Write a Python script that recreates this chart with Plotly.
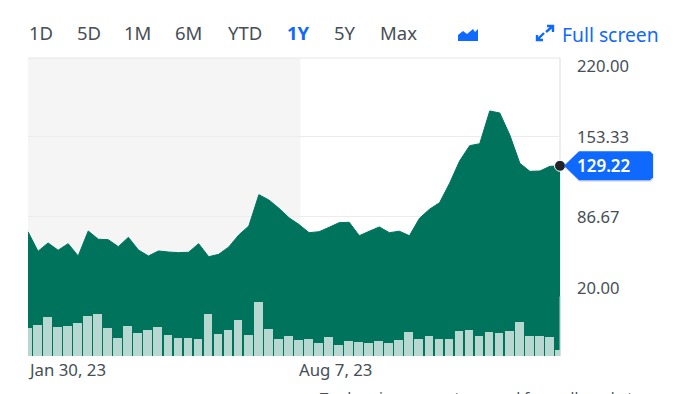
import pandas as pd
import plotly.graph_objects as go

W, H = 673, 394
L, R, T, B = 28, 113, 58, 38

range_buttons = ["1D", "5D", "1M", "6M", "YTD", "1Y", "5Y", "Max"]
button_centers = [41, 88.5, 137.5, 188.5, 245, 298.5, 344.5, 398]
active_button = "1Y"

prices = [74.1, 57.7, 64.7, 58.6, 64.1, 53.8, 74.7, 67.8, 67.4, 61.6, 69.4, 58.8, 53.8, 58.0,
          57.1, 56.6, 56.9, 64.1, 53.2, 55.2, 61.3, 71.4, 78.9, 105.1, 100.6, 93.7, 85.8, 80.1,
          73.3, 74.1, 77.8, 81.7, 82.0, 70.8, 74.5, 78.1, 73.3, 74.5, 70.8, 85.3, 92.9, 98.4,
          114.6, 133.3, 146.1, 147.7, 175.1, 173.4, 155.0, 131.3, 124.6, 124.9, 128.8, 129.22]
volumes = [2.77, 3.07, 3.87, 2.87, 3.00, 3.27, 4.03, 4.20, 2.77, 1.83, 3.00, 2.27, 2.63, 2.93,
           2.10, 1.77, 1.83, 1.73, 4.17, 2.20, 2.57, 3.57, 2.13, 5.37, 2.70, 1.70, 2.00, 1.60,
           1.67, 1.33, 1.93, 1.10, 1.50, 1.37, 1.30, 1.50, 1.27, 1.57, 2.40, 1.70, 2.00, 1.73,
           1.67, 2.53, 2.57, 2.03, 2.40, 2.30, 2.50, 3.37, 2.00, 1.97, 1.90, 0.60]
dates = pd.date_range("2023-01-30", periods=len(prices), freq="7D")

y_ticks = [20.00, 86.67, 153.33, 220.00]
y_min, y_max = -29.86, 219.4
vol_max = 29.8
last_price = prices[-1]
shade_end = "2023-08-08"

DARK = "#00735c"
LIGHT = "#b6d8d0"
TEXT = "#464e56"
BLUE = "#0f69ff"
FONT = "Noto Sans, Open Sans, sans-serif"


def px(x):
    return (x - L) / (W - L - R)


def py(y):
    return 1 - (y - T) / (H - T - B)


def vy(v):
    return (v - y_min) / (y_max - y_min)


def vpix(v):
    return T + (1 - vy(v)) * (H - T - B)


fig = go.Figure()
fig.add_trace(go.Scatter(x=dates, y=[y_min] * len(dates), mode="lines", line=dict(width=0),
                         hoverinfo="skip", showlegend=False))
fig.add_trace(go.Scatter(x=dates, y=prices, mode="lines", line=dict(color=DARK, width=1),
                         fill="tonexty", fillcolor=DARK, showlegend=False))
fig.add_trace(go.Bar(x=dates, y=volumes, yaxis="y2", marker=dict(color=LIGHT, line=dict(width=0)),
                     width=8.7 * 86400000 * 7 / 10.04,
                     offset=-5.0 * 86400000 * 7 / 10.04, showlegend=False))
fig.add_trace(go.Scatter(x=[dates[-1]], y=[last_price], mode="markers", cliponaxis=False,
                         marker=dict(color="#20242a", size=11, line=dict(color="#ffffff", width=1)),
                         showlegend=False))

annotations = []


def text(x, y, s, size=16, color=TEXT, anchor="left", bold=False, xref="paper", yref="paper",
         yshift=0, xshift=-3, weight=None):
    annotations.append(dict(x=x, y=y, xref=xref, yref=yref, text=s,
                            showarrow=False, xanchor=anchor, yanchor="middle", yshift=yshift,
                            xshift=xshift if anchor == "left" else 0,
                            font=dict(family=FONT, size=size, color=color,
                                      weight=weight or (700 if bold else 400))))


for label, cx in zip(range_buttons, button_centers):
    active = label == active_button
    text(px(cx), py(32), label, size=18.5, color=BLUE if active else TEXT, anchor="center", bold=active)
text(px(562), py(34), "Full screen", size=19.3, color=BLUE, xshift=-2)

label_shift = {220.00: -8, 153.33: 0, 86.67: 0, 20.00: 9}
for v in y_ticks:
    text(px(578), vy(v), f"{v:.2f}", size=16.6, yshift=label_shift[v])
text(dates[0], py(369.5), "Jan 30, 23", size=16.8, xref="x", xshift=-2.5)
text("2023-08-07", py(369.5), "Aug 7, 23", size=16.8, xref="x", xshift=-2)
text(px(319), py(397), "Trade prices are not sourced from all markets", size=15, xshift=-1)
text(px(578), vy(last_price), f"{last_price:.2f}", size=17, color="#ffffff", weight=600)

yc = vpix(last_price)


def tag_path(dx, dy):
    return (f"M {px(564 + dx)} {py(yc + dy)} L {px(579 + dx)} {py(yc - 14.5 + dy)} "
            f"L {px(650 + dx)} {py(yc - 14.5 + dy)} L {px(653 + dx)} {py(yc - 11.5 + dy)} "
            f"L {px(653 + dx)} {py(yc + 11.5 + dy)} L {px(650 + dx)} {py(yc + 14.5 + dy)} "
            f"L {px(579 + dx)} {py(yc + 14.5 + dy)} Z")


shapes = [
    dict(type="rect", xref="x", yref="paper", x0=dates[0], x1=shade_end, y0=0, y1=1,
         fillcolor="#f5f5f5", line=dict(width=0), layer="below"),
    dict(type="line", xref="paper", yref="paper", x0=0, x1=1, y0=1, y1=1,
         line=dict(color="#e6e6e6", width=1), layer="below"),
    dict(type="line", xref="paper", yref="paper", x0=1, x1=1, y0=0, y1=1,
         line=dict(color="#dcdcdc", width=1), layer="below"),
    dict(type="line", xref="paper", yref="paper", x0=1, x1=1, y0=0, y1=vy(20),
         line=dict(color=LIGHT, width=1), layer="above"),
    # price tag with a soft shadow
    dict(type="path", xref="paper", yref="paper", path=tag_path(0.5, 1.5),
         fillcolor="rgba(0,0,0,0.15)", line=dict(width=0), layer="above"),
    dict(type="path", xref="paper", yref="paper", path=tag_path(0, 0),
         fillcolor=BLUE, line=dict(width=0), layer="above"),
    # area-chart toggle icon
    dict(type="path", xref="paper", yref="paper", fillcolor=BLUE, line=dict(width=0),
         path=f"M {px(458)} {py(41)} L {px(458)} {py(35)} L {px(463)} {py(31)} L {px(467)} {py(34)} "
              f"L {px(473)} {py(29)} L {px(475)} {py(32)} L {px(478)} {py(29)} L {px(478)} {py(41)} Z"),
    # full screen icon
    dict(type="path", xref="paper", yref="paper", line=dict(color=BLUE, width=2.4),
         path=f"M {px(537)} {py(35)} L {px(537)} {py(40)} L {px(543)} {py(40)} "
              f"M {px(537)} {py(40)} L {px(544)} {py(33)} "
              f"M {px(547)} {py(26)} L {px(553)} {py(26)} L {px(553)} {py(32)} "
              f"M {px(553)} {py(26)} L {px(546)} {py(32)}"),
]

fig.update_layout(
    width=W, height=H, margin=dict(l=L, r=R, t=T, b=B, pad=0),
    paper_bgcolor="#ffffff", plot_bgcolor="rgba(0,0,0,0)", showlegend=False, bargap=0,
    hovermode=False, annotations=annotations, shapes=shapes,
    xaxis=dict(type="date", range=[dates[0], dates[-1]], showgrid=False, zeroline=False,
               showticklabels=False, ticks=""),
    yaxis=dict(range=[y_min, y_max], tickvals=y_ticks, showticklabels=False, ticks="",
               showgrid=True, gridcolor="#ececec", gridwidth=1, zeroline=False),
    yaxis2=dict(range=[0, vol_max], overlaying="y", side="right", showgrid=False, zeroline=False,
                showticklabels=False, ticks=""),
)
fig.write_html("out.html", config=dict(displayModeBar=False),
               post_script="document.body.style.margin='0';document.documentElement.style.overflow='hidden';")
